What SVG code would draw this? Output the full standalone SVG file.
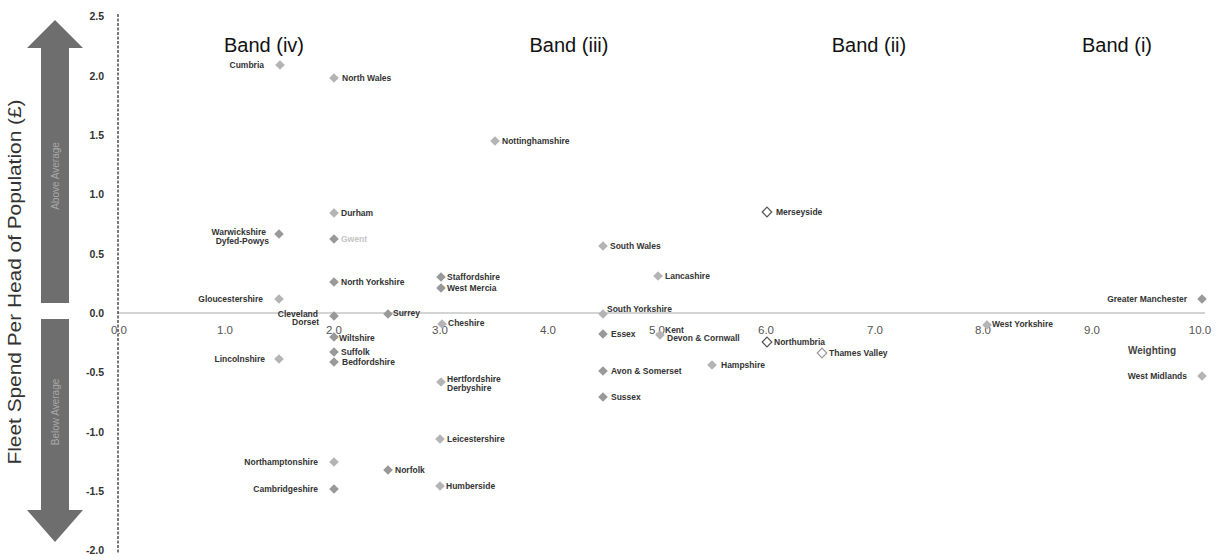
<svg xmlns="http://www.w3.org/2000/svg" width="1223" height="560" viewBox="0 0 1223 560">
<style>
  .pt{fill:#999999}
  .pf{fill:#b4b4b4}
  .ph{fill:#ffffff;stroke:#555555;stroke-width:1.2}
  .phf{fill:#ffffff;stroke:#999999;stroke-width:1.2}
  .lb{font-family:"Liberation Sans",Arial,sans-serif;font-size:8.5px;font-weight:bold;fill:#333333}
  .lbf{font-family:"Liberation Sans",Arial,sans-serif;font-size:8.5px;font-weight:bold;fill:#c4c4c4}
  .yt{font-family:"Liberation Sans",Arial,sans-serif;font-size:10.5px;font-weight:bold;fill:#333333;text-anchor:end}
  .xt{font-family:"Liberation Sans",Arial,sans-serif;font-size:11.5px;fill:#555555;text-anchor:middle}
  .band{font-family:"Liberation Sans",Arial,sans-serif;font-size:20px;fill:#111111;text-anchor:middle}
  .e{text-anchor:end}
</style>
<defs>
  <path id="d" d="M0,-4.8 L4.8,0 L0,4.8 L-4.8,0 Z"/>
</defs>
<rect width="1223" height="560" fill="#ffffff"/>

<g id="arrow">
  <path d="M55,20 L83,48 L69,48 L69,303 L41,303 L41,48 L27,48 Z" fill="#6e6e6e"/>
  <path d="M41,319 L69,319 L69,510 L83,510 L55,542 L27,510 L41,510 Z" fill="#6e6e6e"/>
  <text transform="translate(59,176) rotate(-90)" text-anchor="middle" font-family="Liberation Sans, Arial, sans-serif" font-size="10" fill="#a8a8a8">Above Average</text>
  <text transform="translate(59,412) rotate(-90)" text-anchor="middle" font-family="Liberation Sans, Arial, sans-serif" font-size="10" fill="#a8a8a8">Below Average</text>
</g>

<g id="axis-title">
  <text transform="translate(21,282) rotate(-90)" text-anchor="middle" font-family="Liberation Sans, Arial, sans-serif" font-size="18" fill="#333333" textLength="365" lengthAdjust="spacingAndGlyphs">Fleet Spend Per Head of Population (£)</text>
</g>

<g id="axes">
  <line x1="118" y1="313" x2="1205" y2="313" stroke="#d4d4d4" stroke-width="2"/>
  <line x1="118" y1="14" x2="118" y2="553" stroke="#222222" stroke-width="1.2" stroke-dasharray="3,1.5"/>
  <g id="y-ticks">
    <text class="yt" x="104" y="20">2.5</text>
    <text class="yt" x="104" y="80">2.0</text>
    <text class="yt" x="104" y="139">1.5</text>
    <text class="yt" x="104" y="198">1.0</text>
    <text class="yt" x="104" y="258">0.5</text>
    <text class="yt" x="104" y="317">0.0</text>
    <text class="yt" x="104" y="376">-0.5</text>
    <text class="yt" x="104" y="436">-1.0</text>
    <text class="yt" x="104" y="495">-1.5</text>
    <text class="yt" x="104" y="554">-2.0</text>
  </g>
  <g id="x-ticks">
    <text class="xt" x="119" y="334">0.0</text>
    <text class="xt" x="225" y="334">1.0</text>
    <text class="xt" x="334" y="334">2.0</text>
    <text class="xt" x="440" y="334">3.0</text>
    <text class="xt" x="548" y="334">4.0</text>
    <text class="xt" x="657" y="334">5.0</text>
    <text class="xt" x="766" y="334">6.0</text>
    <text class="xt" x="875" y="334">7.0</text>
    <text class="xt" x="983" y="334">8.0</text>
    <text class="xt" x="1092" y="334">9.0</text>
    <text class="xt" x="1200" y="334">10.0</text>
  </g>
  <text x="1152" y="354" text-anchor="middle" font-family="Liberation Sans, Arial, sans-serif" font-size="10" font-weight="bold" fill="#444444">Weighting</text>
</g>

<g id="bands">
  <text class="band" x="264" y="52">Band (iv)</text>
  <text class="band" x="569" y="52">Band (iii)</text>
  <text class="band" x="869" y="52">Band (ii)</text>
  <text class="band" x="1117" y="52">Band (i)</text>
</g>

<g id="connectors"></g>

<g id="n-cumbria"><use href="#d" x="280" y="65" class="pf"/><text class="lb e" x="264" y="68">Cumbria</text></g>
<g id="n-north-wales"><use href="#d" x="334" y="78" class="pf"/><text class="lb" x="342" y="81">North Wales</text></g>
<g id="n-nottinghamshire"><use href="#d" x="495" y="141" class="pf"/><text class="lb" x="502" y="144">Nottinghamshire</text></g>
<g id="n-durham"><use href="#d" x="334" y="213" class="pf"/><text class="lb" x="341" y="216">Durham</text></g>
<g id="n-merseyside"><use href="#d" x="767" y="212" class="ph"/><text class="lb" x="776" y="215">Merseyside</text></g>
<g id="n-warwickshire"><use href="#d" x="279" y="234" class="pt"/><text class="lb e" x="266" y="235">Warwickshire</text><text class="lb e" x="269" y="244">Dyfed-Powys</text></g>
<g id="n-gwent"><use href="#d" x="334" y="239" class="pt"/><text class="lbf" x="341" y="242">Gwent</text></g>
<g id="n-south-wales"><use href="#d" x="603" y="246" class="pf"/><text class="lb" x="610" y="249">South Wales</text></g>
<g id="n-staffordshire"><use href="#d" x="441" y="277" class="pt"/><text class="lb" x="447" y="280">Staffordshire</text></g>
<g id="n-west-mercia"><use href="#d" x="441" y="288" class="pt"/><text class="lb" x="447" y="291">West Mercia</text></g>
<g id="n-lancashire"><use href="#d" x="658" y="276" class="pf"/><text class="lb" x="665" y="279">Lancashire</text></g>
<g id="n-north-yorkshire"><use href="#d" x="334" y="282" class="pt"/><text class="lb" x="341" y="285">North Yorkshire</text></g>
<g id="n-gloucestershire"><use href="#d" x="279" y="299" class="pf"/><text class="lb e" x="263" y="302">Gloucestershire</text></g>
<g id="n-greater-manchester"><use href="#d" x="1202" y="299" class="pt"/><text class="lb e" x="1187" y="302">Greater Manchester</text></g>
<g id="n-south-yorkshire"><use href="#d" x="603" y="314" class="pf"/><text class="lb" x="607" y="312">South Yorkshire</text></g>
<g id="n-surrey"><use href="#d" x="388" y="314" class="pt"/><text class="lb" x="393" y="316">Surrey</text></g>
<g id="n-cleveland"><use href="#d" x="334" y="316" class="pt"/><text class="lb e" x="318" y="317">Cleveland</text><text class="lb e" x="319" y="325">Dorset</text></g>
<g id="n-cheshire"><use href="#d" x="442" y="324" class="pf"/><text class="lb" x="448" y="326">Cheshire</text></g>
<g id="n-essex"><use href="#d" x="603" y="334" class="pt"/><text class="lb" x="611" y="337">Essex</text></g>
<g id="n-kent"><use href="#d" x="660" y="335" class="pf"/><text class="lb" x="665" y="333">Kent</text><text class="lb" x="667" y="341">Devon &amp; Cornwall</text></g>
<g id="n-west-yorkshire"><use href="#d" x="987" y="325" class="pf"/><text class="lb" x="992" y="327">West Yorkshire</text></g>
<g id="n-wiltshire"><use href="#d" x="334" y="337" class="pt"/><text class="lb" x="339" y="341">Wiltshire</text></g>
<g id="n-northumbria"><use href="#d" x="767" y="342" class="ph"/><text class="lb" x="774" y="345">Northumbria</text></g>
<g id="n-thames-valley"><use href="#d" x="822" y="353" class="phf"/><text class="lb" x="829" y="356">Thames Valley</text></g>
<g id="n-suffolk"><use href="#d" x="334" y="352" class="pt"/><text class="lb" x="341" y="355">Suffolk</text></g>
<g id="n-bedfordshire"><use href="#d" x="334" y="362" class="pt"/><text class="lb" x="342" y="365">Bedfordshire</text></g>
<g id="n-lincolnshire"><use href="#d" x="279" y="359" class="pf"/><text class="lb e" x="265" y="362">Lincolnshire</text></g>
<g id="n-hampshire"><use href="#d" x="712" y="365" class="pf"/><text class="lb" x="721" y="368">Hampshire</text></g>
<g id="n-avon-somerset"><use href="#d" x="603" y="371" class="pt"/><text class="lb" x="611" y="374">Avon &amp; Somerset</text></g>
<g id="n-west-midlands"><use href="#d" x="1202" y="376" class="pf"/><text class="lb e" x="1187" y="379">West Midlands</text></g>
<g id="n-hertfordshire"><use href="#d" x="441" y="382" class="pf"/><text class="lb" x="447" y="382">Hertfordshire</text><text class="lb" x="447" y="391">Derbyshire</text></g>
<g id="n-sussex"><use href="#d" x="603" y="397" class="pt"/><text class="lb" x="611" y="400">Sussex</text></g>
<g id="n-leicestershire"><use href="#d" x="440" y="439" class="pf"/><text class="lb" x="447" y="442">Leicestershire</text></g>
<g id="n-northamptonshire"><use href="#d" x="334" y="462" class="pf"/><text class="lb e" x="318" y="465">Northamptonshire</text></g>
<g id="n-norfolk"><use href="#d" x="388" y="470" class="pt"/><text class="lb" x="395" y="473">Norfolk</text></g>
<g id="n-cambridgeshire"><use href="#d" x="334" y="489" class="pt"/><text class="lb e" x="318" y="492">Cambridgeshire</text></g>
<g id="n-humberside"><use href="#d" x="440" y="486" class="pf"/><text class="lb" x="446" y="489">Humberside</text></g>
</svg>
